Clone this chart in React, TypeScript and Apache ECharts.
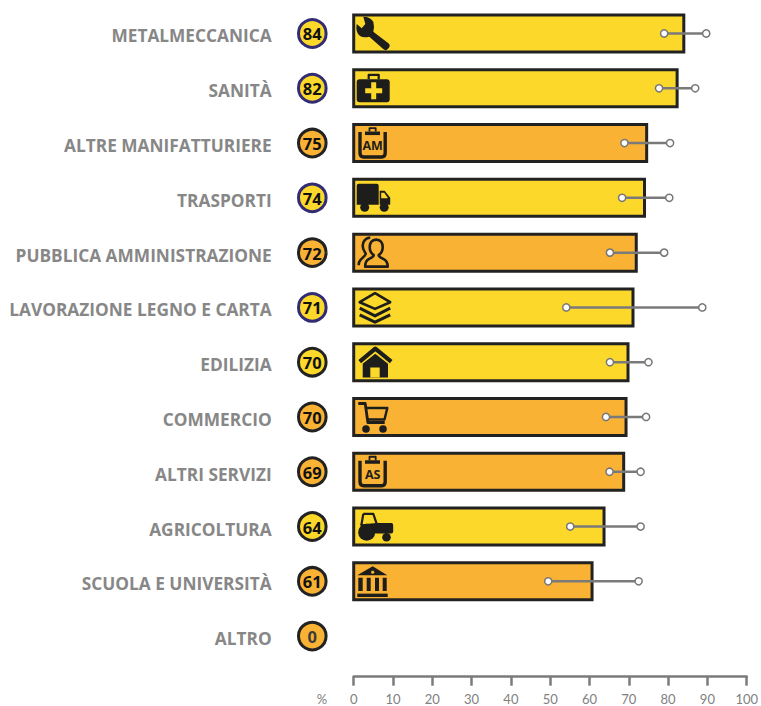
import React, { useEffect, useRef } from "react";
import * as echarts from "echarts";

const categories = [
  "METALMECCANICA", "SANITÀ", "ALTRE MANIFATTURIERE", "TRASPORTI", "PUBBLICA AMMINISTRAZIONE",
  "LAVORAZIONE LEGNO E CARTA", "EDILIZIA", "COMMERCIO", "ALTRI SERVIZI", "AGRICOLTURA",
  "SCUOLA E UNIVERSITÀ", "ALTRO",
];
const barValues = [84, 82.3, 74.55, 74, 71.9, 71.07, 69.8, 69.3, 68.7, 63.7, 60.65, null];
const badgeValues = [84, 82, 75, 74, 72, 71, 70, 70, 69, 64, 61, 0];
const rangeLow = [79, 77.7, 68.9, 68.3, 65.2, 54.1, 65.2, 64.2, 65.1, 55.1, 49.5];
const rangeHigh = [89.7, 86.9, 80.5, 80.3, 79, 88.7, 75, 74.4, 73, 73, 72.5];
const fillKinds = ["y", "y", "o", "y", "o", "y", "y", "o", "o", "y", "o", "o"];
const ringKinds = ["n", "n", "d", "n", "d", "n", "d", "d", "d", "d", "d", "d"];

const YELLOW = "#FCD82A";
const ORANGE = "#F9B233";
const INK = "#1D1D1B";
const NAVY = "#312C73";
const GREY = "#878787";
const AXIS = "#7B7B7B";

type Piece = { d: string; k: "f" | "h" | "s"; w?: number };
const clipboard: Piece[] = [
  { d: "M6.3 -11V10Q6.3 14 10 14H28Q31.5 14 31.5 10V-11", k: "s", w: 3.4 },
  { d: "M11.3 -11.5H26.3V-8H11.3Z", k: "f" },
  { d: "M15.8 -11.5V-15H22V-11.5", k: "s", w: 1.8 },
];
const icons: Piece[][] = [
  [{ d: "M9.6 -16.8Q16 -17 19.6 -11.8Q21 -7 19.6 -1.8L35 10Q37 12 35 14.5L33.5 16Q31.5 17.5 29.5 15.5L15.6 3.2Q10 4.5 6.3 2.5Q1.5 -1 3 -9.5L8 -5.2L11.6 -9.5Z", k: "f" }],
  [
    { d: "M15 -9V-13.5H25V-9", k: "s", w: 2.2 },
    { d: "M6 -9H33Q36 -9 36 -6V11Q36 14 33 14H6Q3 14 3 11V-6Q3 -9 6 -9Z", k: "f" },
    { d: "M17.5 -6H22.5V0H28.5V5H22.5V11H17.5V5H11.5V0H17.5Z", k: "h" },
  ],
  clipboard,
  [
    { d: "M5 -14H23Q25 -14 25 -12V7H3V-12Q3 -14 5 -14Z", k: "f" },
    { d: "M26 -7H31L36.5 0V7H26Z", k: "f" },
    { d: "M27.5 -5H30.5L34 0V0.5H27.5Z", k: "h" },
    { d: "M6.5 9.5A4.5 4.5 0 1 0 15.5 9.5A4.5 4.5 0 1 0 6.5 9.5Z", k: "f" },
    { d: "M26 9.5A4.5 4.5 0 1 0 35 9.5A4.5 4.5 0 1 0 26 9.5Z", k: "f" },
  ],
  [
    { d: "M22.5 -13C18 -13 16 -9.5 16 -5.5C16 -2 18 1 20 2.5C20 4 18 5 15 6.5C12 8 11.5 11 11.5 14H34C34 11 33 8 30 6.5C27 5 25 4 25 2.5C27 1 29 -2 29 -5.5C29 -9.5 27 -13 22.5 -13Z", k: "s", w: 2.6 },
    { d: "M16.5 -15C12 -15 9 -11 9 -7C9 -3 11 -1 12 1C12 3 9 5 7 7C5 9 5 11 5 12.5", k: "s", w: 2.6 },
  ],
  [
    { d: "M21.3 -14.2L36.5 -5.2L21.3 1.5L6 -5.2Z", k: "s", w: 2.6 },
    { d: "M6 0.8L21.3 8.5L36.5 0.8", k: "s", w: 3 },
    { d: "M6 7.5L21.3 14.8L36.5 7.5", k: "s", w: 3 },
  ],
  [
    { d: "M6 -0.5L21.6 -13.5L37.5 -0.5", k: "s", w: 4.2 },
    { d: "M21.6 -8.5L34.3 1.5V15.3H9V1.5Z", k: "f" },
    { d: "M16.6 5.3H26V15.3H16.6Z", k: "h" },
  ],
  [
    { d: "M4.6 -13.5H11.5L14.2 5.5H31", k: "s", w: 2.8 },
    { d: "M12.5 -9H33.6L30.8 2.5H14", k: "s", w: 2.4 },
    { d: "M8.5 12A3.8 3.8 0 1 0 16.1 12A3.8 3.8 0 1 0 8.5 12Z", k: "f" },
    { d: "M25.5 12A3.8 3.8 0 1 0 33.1 12A3.8 3.8 0 1 0 25.5 12Z", k: "f" },
  ],
  clipboard,
  [
    { d: "M9.6 -12.7H19.6L23 -2.7M9.6 -12.7L7.6 -1", k: "s", w: 2.2 },
    { d: "M6 -2L23 -3.5H38Q39.5 -3.5 39.5 -1V5Q39.5 7 37.5 7H16Z", k: "f" },
    { d: "M4.5 5.7A8.5 8.5 0 1 0 21.5 5.7A8.5 8.5 0 1 0 4.5 5.7Z", k: "f" },
    { d: "M28.5 10.7A4.3 4.3 0 1 0 37.1 10.7A4.3 4.3 0 1 0 28.5 10.7Z", k: "f" },
  ],
  [
    { d: "M19 -15L33.6 -6H3.6Z", k: "f" },
    { d: "M17.4 -9.2A1.6 1.6 0 1 0 20.6 -9.2A1.6 1.6 0 1 0 17.4 -9.2Z", k: "h" },
    { d: "M4.6 -3.7H9V9.7H4.6ZM13 -3.7H17V9.7H13ZM21.3 -3.7H25.3V9.7H21.3ZM29 -3.7H33V9.7H29Z", k: "f" },
    { d: "M3.6 12.3H34V15.7H3.6Z", k: "f" },
  ],
];
const iconTexts: Record<number, string> = { 2: "AM", 8: "AS" };

const fillOf = (i: number) => (fillKinds[i] === "y" ? YELLOW : ORANGE);

export default function App() {
  const ref = useRef<HTMLDivElement>(null);
  useEffect(() => {
    document.body.style.margin = "0";
    const chart = echarts.init(ref.current!, null, { renderer: "svg" });
    const font = "'Open Sans', sans-serif";
    const axisFont = "Lato, sans-serif";
    chart.setOption({
      animation: false,
      backgroundColor: "#fff",
      grid: { left: 353.7, width: 393, top: 6.1, height: 657.4 },
      xAxis: {
        type: "value", min: 0, max: 100, interval: 10, offset: 13.2,
        splitLine: { show: false },
        axisLine: { show: true, lineStyle: { color: AXIS, width: 2.5 } },
        axisTick: { show: true, length: 9, lineStyle: { color: AXIS, width: 2.5 } },
        axisLabel: { margin: 16.5, color: "#808080", fontFamily: axisFont, fontSize: 13, lineHeight: 12 },
      },
      yAxis: {
        type: "category", inverse: true, data: categories,
        axisLine: { show: false }, axisTick: { show: false },
        axisLabel: { margin: 82, color: GREY, fontFamily: font, fontWeight: 700, fontSize: 17.3, verticalAlign: "top", lineHeight: 5 },
      },
      graphic: [{ type: "text", x: 322, y: 699, style: { text: "%", fill: "#808080", font: `13px ${axisFont}`, lineHeight: 12, align: "center", verticalAlign: "middle" } }],
      series: [
        {
          type: "bar", barWidth: 37,
          data: barValues.map((v, i) => ({ value: v, itemStyle: { color: fillOf(i) } })),
        },
        {
          type: "custom", clip: false, z: 3,
          data: barValues.slice(0, 11).map((v, i) => [v, i]),
          encode: { x: 0, y: 1 },
          renderItem: (_p: any, api: any) => {
            const i = api.value(1);
            const [x, y] = api.coord([0, i]);
            const [xEnd] = api.coord([api.value(0), i]);
            const children: any[] = [
              { type: "rect", shape: { x: 0, y: -18.5, width: xEnd - x, height: 37 }, style: { fill: "none", stroke: "#222", lineWidth: 3 } },
              ...icons[i].map((p) => ({
                type: "path",
                shape: { pathData: p.d },
                style: p.k === "s"
                  ? { fill: "none", stroke: INK, lineWidth: p.w, lineJoin: "round", lineCap: "butt" }
                  : { fill: p.k === "f" ? INK : fillOf(i) },
              })),
            ];
            if (iconTexts[i]) {
              children.push({ type: "text", x: 19, y: 2.5, style: { text: iconTexts[i], fill: INK, font: `700 12.5px ${font}`, align: "center", verticalAlign: "middle" } });
            }
            return { type: "group", x, y, children };
          },
        },
        {
          type: "custom", clip: false, z: 4,
          data: rangeLow.map((v, i) => [v, rangeHigh[i], i]),
          encode: { x: [0, 1], y: 2 },
          renderItem: (_p: any, api: any) => {
            const a = api.coord([api.value(0), api.value(2)]);
            const b = api.coord([api.value(1), api.value(2)]);
            const dot = (p: number[]) => ({ type: "circle", shape: { cx: p[0], cy: p[1], r: 3.6 }, style: { fill: "#fff", stroke: "#777", lineWidth: 1.5 } });
            return {
              type: "group",
              children: [
                { type: "line", shape: { x1: a[0], y1: a[1], x2: b[0], y2: b[1] }, style: { stroke: "#7A7A7A", lineWidth: 2.5 } },
                dot(a), dot(b),
              ],
            };
          },
        },
        {
          type: "custom", clip: false, z: 5,
          data: badgeValues.map((v, i) => [0, i, v]),
          encode: { x: 0, y: 1 },
          renderItem: (_p: any, api: any) => {
            const i = api.value(1);
            const [x, y] = api.coord([0, i]);
            return {
              type: "group", x: x - 41.4, y,
              children: [
                { type: "circle", shape: { cx: 0, cy: 0, r: 13.8 }, style: { fill: fillOf(i), stroke: ringKinds[i] === "n" ? NAVY : "#222", lineWidth: 3 } },
                { type: "text", x: 0, y: 0.5, style: { text: String(api.value(2)), fill: i === 11 ? "#3C3C3B" : "#111", font: `700 16.5px ${font}`, align: "center", verticalAlign: "middle" } },
              ],
            };
          },
        },
      ],
    });
    return () => chart.dispose();
  }, []);
  return <div ref={ref} style={{ width: 761, height: 706 }} />;
}
